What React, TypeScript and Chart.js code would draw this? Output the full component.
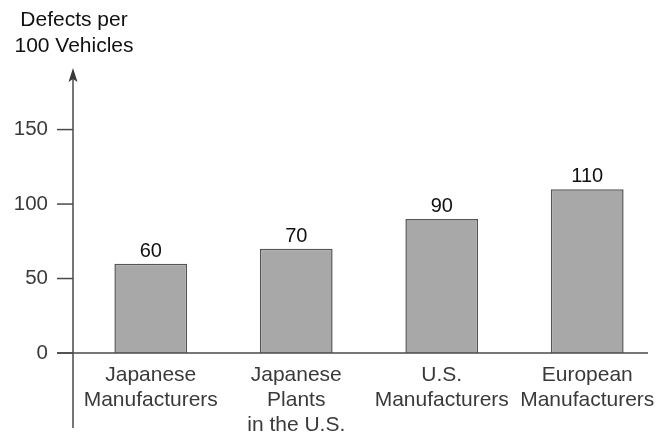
import React, { useEffect, useRef } from "react";
import { Chart, registerables } from "chart.js";

Chart.register(...registerables);

const categories: string[][] = [
  ["Japanese", "Manufacturers"],
  ["Japanese", "Plants", "in the U.S."],
  ["U.S.", "Manufacturers"],
  ["European", "Manufacturers"],
];
const defects: number[] = [60, 70, 90, 110];
const yTicks: number[] = [0, 50, 100, 150];
const titleLines: string[] = ["Defects per", "100 Vehicles"];

const FONT = "'Liberation Sans', Arial, Helvetica, sans-serif";

const overlay = {
  id: "overlay",
  afterDraw(chart: any) {
    const ctx = chart.ctx;
    const area = chart.chartArea;
    const y = chart.scales.y;
    const axisX = area.left - 5;
    const y0 = y.getPixelForValue(0);
    const tipY = area.top - 2;
    ctx.save();
    ctx.strokeStyle = "#4a4a4a";
    ctx.lineWidth = 1.5;
    // y axis
    ctx.beginPath();
    ctx.moveTo(axisX, tipY + 6);
    ctx.lineTo(axisX, y0 + 75);
    ctx.stroke();
    // x axis
    ctx.beginPath();
    ctx.moveTo(axisX - 16, y0);
    ctx.lineTo(area.right - 12, y0);
    ctx.stroke();
    // tick marks
    yTicks.forEach((v) => {
      const py = y.getPixelForValue(v);
      ctx.beginPath();
      ctx.moveTo(axisX - 16, py);
      ctx.lineTo(axisX, py);
      ctx.stroke();
    });
    // arrow
    ctx.fillStyle = "#3a3a3a";
    ctx.beginPath();
    ctx.moveTo(axisX, tipY);
    ctx.lineTo(axisX - 4.5, tipY + 14);
    ctx.lineTo(axisX, tipY + 11);
    ctx.lineTo(axisX + 4.5, tipY + 14);
    ctx.closePath();
    ctx.fill();
    // title
    ctx.fillStyle = "#111";
    ctx.font = `21px ${FONT}`;
    ctx.textAlign = "center";
    ctx.textBaseline = "alphabetic";
    titleLines.forEach((t, i) => ctx.fillText(t, axisX + 1, 26 + i * 26));
    // value labels
    const meta = chart.getDatasetMeta(0);
    ctx.font = `20px ${FONT}`;
    meta.data.forEach((bar: any, i: number) => {
      ctx.fillText(String(defects[i]), bar.x, bar.y - 7);
    });
    ctx.restore();
  },
};

export default function App() {
  const ref = useRef<HTMLCanvasElement>(null);
  useEffect(() => {
    if (!ref.current) return;
    const chart = new Chart(ref.current, {
      type: "bar",
      data: {
        labels: categories,
        datasets: [
          {
            data: defects,
            backgroundColor: "#a8a8a8",
            borderColor: "#555555",
            borderWidth: 1.5,
            barPercentage: 0.5,
            categoryPercentage: 1,
          },
        ],
      },
      options: {
        responsive: false,
        animation: false,
        layout: { padding: { top: 70, right: 8, left: 0, bottom: 0 } },
        plugins: { legend: { display: false }, tooltip: { enabled: false } },
        scales: {
          x: {
            grid: { display: false },
            border: { display: false },
            ticks: {
              color: "#3a3a3a",
              font: { size: 21, family: FONT, lineHeight: 25 / 21 },
              padding: 1.5,
              maxRotation: 0,
              autoSkip: false,
            },
            afterFit: (s: any) => {
              s.height = 84;
            },
          },
          y: {
            min: 0,
            max: 190,
            grid: { display: false },
            border: { display: false },
            afterBuildTicks: (s: any) => {
              s.ticks = yTicks.map((v) => ({ value: v }));
            },
            ticks: {
              color: "#3a3a3a",
              font: { size: 20.5, family: FONT },
              padding: 22,
            },
            afterFit: (s: any) => {
              s.width = 78;
            },
          },
        },
      },
      plugins: [overlay],
    });
    return () => chart.destroy();
  }, []);
  return (
    <div style={{ position: "fixed", left: 0, top: 0, width: 668, height: 437, background: "#fff" }}>
      <canvas ref={ref} width={668} height={437} style={{ display: "block" }} />
    </div>
  );
}
